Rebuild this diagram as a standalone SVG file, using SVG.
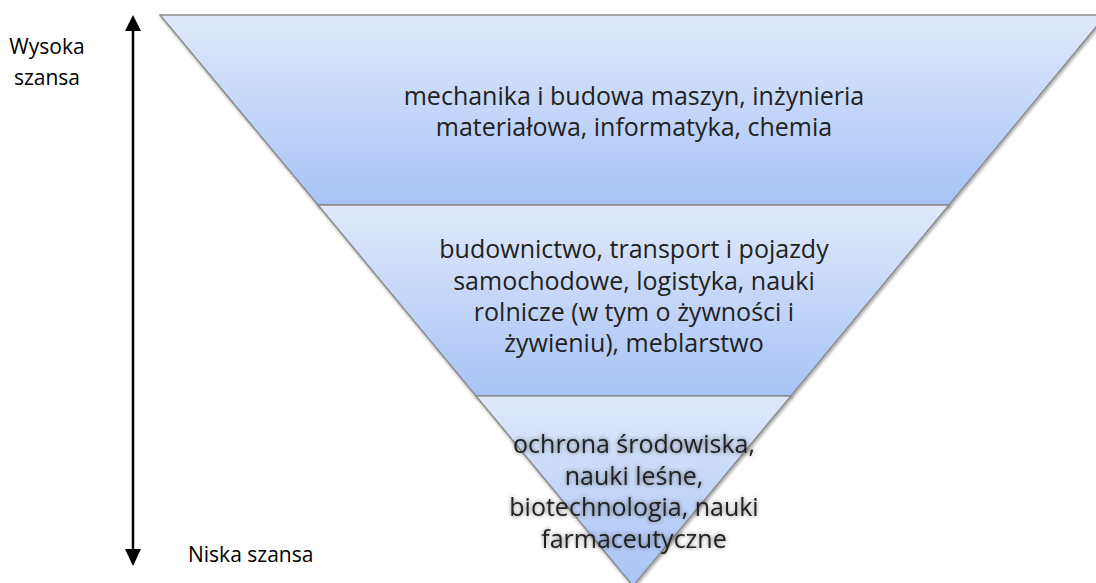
<svg xmlns="http://www.w3.org/2000/svg" width="1096" height="583" viewBox="0 0 1096 583">
<style>
.band{stroke:#8c8c8c;stroke-width:1.5;filter:url(#sh)}
.t{font-family:"Open Sans","Liberation Sans",sans-serif;font-size:25px;fill:#222;text-anchor:middle}
.lab{font-family:"Open Sans","Liberation Sans",sans-serif;font-size:21px;fill:#000}
</style>
<defs>
<linearGradient id="g" x1="0" y1="0" x2="0" y2="1">
<stop offset="0" stop-color="#e0e9fb"/>
<stop offset="1" stop-color="#a7c3f6"/>
</linearGradient>
<filter id="sh" x="-5%" y="-5%" width="110%" height="115%">
<feDropShadow dx="1" dy="2" stdDeviation="1.5" flood-color="#000" flood-opacity="0.35"/>
</filter>
<filter id="glow" x="-10%" y="-30%" width="120%" height="160%">
<feGaussianBlur in="SourceAlpha" stdDeviation="2"/>
<feComponentTransfer><feFuncA type="linear" slope="0.5"/></feComponentTransfer>
<feMerge><feMergeNode/><feMergeNode in="SourceGraphic"/></feMerge>
</filter>
</defs>
<g id="band1">
<path class="band" fill="url(#g)" d="M160,15 L1106,15 L949,205 L318,205 Z"/>
<text class="t" x="634" y="105">mechanika i budowa maszyn, inżynieria</text>
<text class="t" x="634" y="136">materiałowa, informatyka, chemia</text>
</g>
<g id="band2">
<path class="band" fill="url(#g)" d="M318,205 L949,205 L791,396 L476,396 Z"/>
<text class="t" x="634" y="258">budownictwo, transport i pojazdy</text>
<text class="t" x="634" y="290">samochodowe, logistyka, nauki</text>
<text class="t" x="634" y="321">rolnicze (w tym o żywności i</text>
<text class="t" x="634" y="352">żywieniu), meblarstwo</text>
</g>
<g id="band3">
<path class="band" fill="url(#g)" d="M476,396 L791,396 L633,586 Z"/>
<g filter="url(#glow)">
<text class="t" x="634" y="453">ochrona środowiska,</text>
<text class="t" x="634" y="485">nauki leśne,</text>
<text class="t" x="634" y="516">biotechnologia, nauki</text>
<text class="t" x="634" y="548">farmaceutyczne</text>
</g>
</g>
<g id="connectors">
<line x1="133" y1="30" x2="133" y2="550" stroke="#000" stroke-width="2.5"/>
<path d="M133,15 L125,31 L141,31 Z" fill="#000"/>
<path d="M133,566 L125,549 L141,549 Z" fill="#000"/>
</g>
<g id="labels">
<text class="lab" x="47" y="54" text-anchor="middle">Wysoka</text>
<text class="lab" x="47" y="85" text-anchor="middle">szansa</text>
<text class="lab" x="188" y="562">Niska szansa</text>
</g>
</svg>
